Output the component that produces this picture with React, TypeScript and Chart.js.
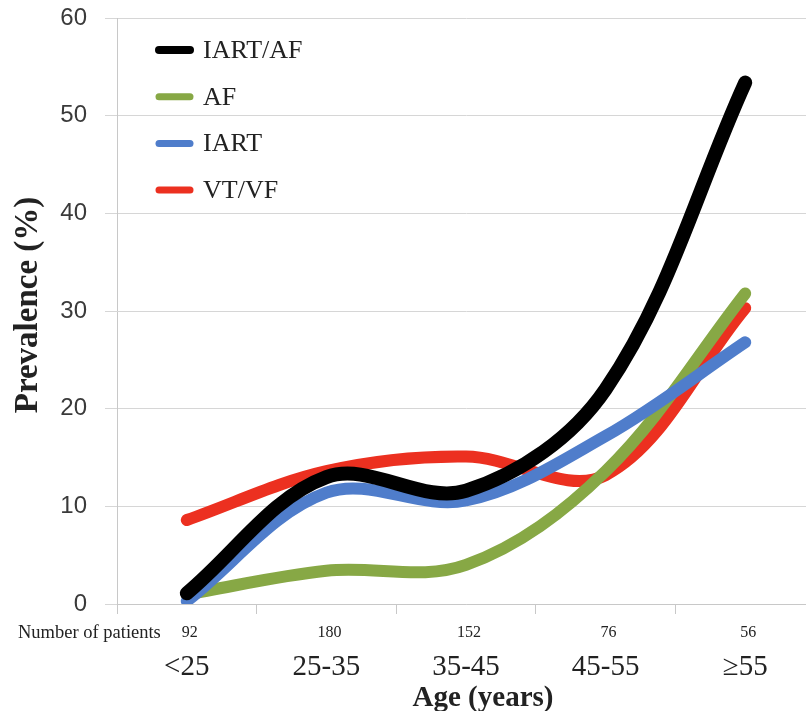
import React, { useEffect, useRef } from 'react';
import { Chart, registerables } from 'chart.js';

Chart.register(...registerables);

const categories = ['<25', '25-35', '35-45', '45-55', '≥55'];
const patientCounts = ['92', '180', '152', '76', '56'];
const iartAf = [1.1, 13.0, 11.6, 22.0, 53.4];
const af = [1.0, 3.4, 4.0, 13.6, 31.8];
const iart = [0.3, 11.4, 10.6, 17.2, 26.8];
const vtVf = [8.6, 13.6, 15.1, 13.2, 30.3];
const yMin = 0;
const yMax = 60;
const yStep = 10;

const SERIF = "'Liberation Serif', 'Times New Roman', serif";
const SANS = "'Liberation Sans', Arial, sans-serif";

export default function App() {
  const ref = useRef<HTMLCanvasElement | null>(null);

  useEffect(() => {
    const canvas = ref.current;
    if (!canvas) return;

    const extraText = {
      id: 'extraText',
      afterDraw(chart: any) {
        const ctx = chart.ctx as CanvasRenderingContext2D;
        const xs = chart.scales.x;
        ctx.save();
        // y title
        ctx.save();
        ctx.translate(28, 305);
        ctx.rotate(-Math.PI / 2);
        ctx.font = `bold 33px ${SERIF}`;
        ctx.fillStyle = '#222';
        ctx.textAlign = 'center';
        ctx.textBaseline = 'middle';
        ctx.fillText('Prevalence (%)', 0, 0);
        ctx.restore();
        // patient counts row
        ctx.fillStyle = '#222';
        ctx.textBaseline = 'middle';
        ctx.font = `18.5px ${SERIF}`;
        ctx.textAlign = 'left';
        ctx.fillText('Number of patients', 18, 633);
        ctx.font = `16px ${SERIF}`;
        ctx.textAlign = 'center';
        patientCounts.forEach((c, i) => {
          ctx.fillText(c, xs.getPixelForValue(i) + 3, 633);
        });
        // x title
        ctx.font = `bold 29px ${SERIF}`;
        ctx.textBaseline = 'alphabetic';
        ctx.fillText('Age (years)', 483, 706);
        // legend
        const ds = chart.data.datasets;
        ds.forEach((d: any, i: number) => {
          const y = 50 + i * 46.7;
          ctx.strokeStyle = d.borderColor;
          ctx.lineCap = 'round';
          ctx.lineWidth = i === 0 ? 8 : 7;
          ctx.beginPath();
          ctx.moveTo(159, y);
          ctx.lineTo(190, y);
          ctx.stroke();
          ctx.fillStyle = '#222';
          ctx.font = `26px ${SERIF}`;
          ctx.textAlign = 'left';
          ctx.textBaseline = 'middle';
          ctx.fillText(d.label, 203, y + 1);
        });
        ctx.restore();
      },
    };

    const common = {
      pointRadius: 0,
      pointHoverRadius: 0,
      tension: 0.35,
      borderCapStyle: 'round' as const,
      borderJoinStyle: 'round' as const,
      fill: false,
    };

    const chart = new Chart(canvas, {
      type: 'line',
      data: {
        labels: categories,
        datasets: [
          { ...common, label: 'IART/AF', data: iartAf, borderColor: '#000000', backgroundColor: '#000000', borderWidth: 14, order: 0 },
          { ...common, label: 'AF', data: af, borderColor: '#87A845', backgroundColor: '#87A845', borderWidth: 12, order: 2 },
          { ...common, label: 'IART', data: iart, borderColor: '#4F7DCB', backgroundColor: '#4F7DCB', borderWidth: 12, order: 1 },
          { ...common, label: 'VT/VF', data: vtVf, borderColor: '#EC3020', backgroundColor: '#EC3020', borderWidth: 12, order: 3 },
        ],
      },
      options: {
        responsive: false,
        animation: false,
        devicePixelRatio: 1,
        layout: { padding: { top: 18, left: 0, right: 0, bottom: 0 } },
        plugins: {
          legend: { display: false },
          tooltip: { enabled: false },
        },
        scales: {
          x: {
            type: 'category',
            offset: true,
            afterFit: (s: any) => { s.height = 107; },
            grid: {
              offset: true,
              drawOnChartArea: false,
              drawTicks: true,
              tickLength: 10,
              color: '#c8c8c8',
            },
            border: { display: true, color: '#c8c8c8' },
            ticks: {
              font: { family: SERIF, size: 29 },
              color: '#222',
              padding: 36,
              maxRotation: 0,
              autoSkip: false,
            },
          },
          y: {
            min: yMin,
            max: yMax,
            afterFit: (s: any) => { s.width = 117; },
            grid: {
              color: '#d6d6d6',
              tickLength: 12,
              drawTicks: true,
            },
            border: { display: true, color: '#c8c8c8' },
            ticks: {
              stepSize: yStep,
              font: { family: SANS, size: 24, lineHeight: 0.01 },
              color: '#3a3a3a',
              padding: 18,
            },
          },
        },
      },
      plugins: [extraText],
    });

    return () => chart.destroy();
  }, []);

  return (
    <div style={{ position: 'absolute', left: 0, top: 0, width: 806, height: 711, overflow: 'hidden', background: '#fff' }}>
      <canvas ref={ref} width={815} height={711} style={{ display: 'block', width: 815, height: 711 }} />
    </div>
  );
}
